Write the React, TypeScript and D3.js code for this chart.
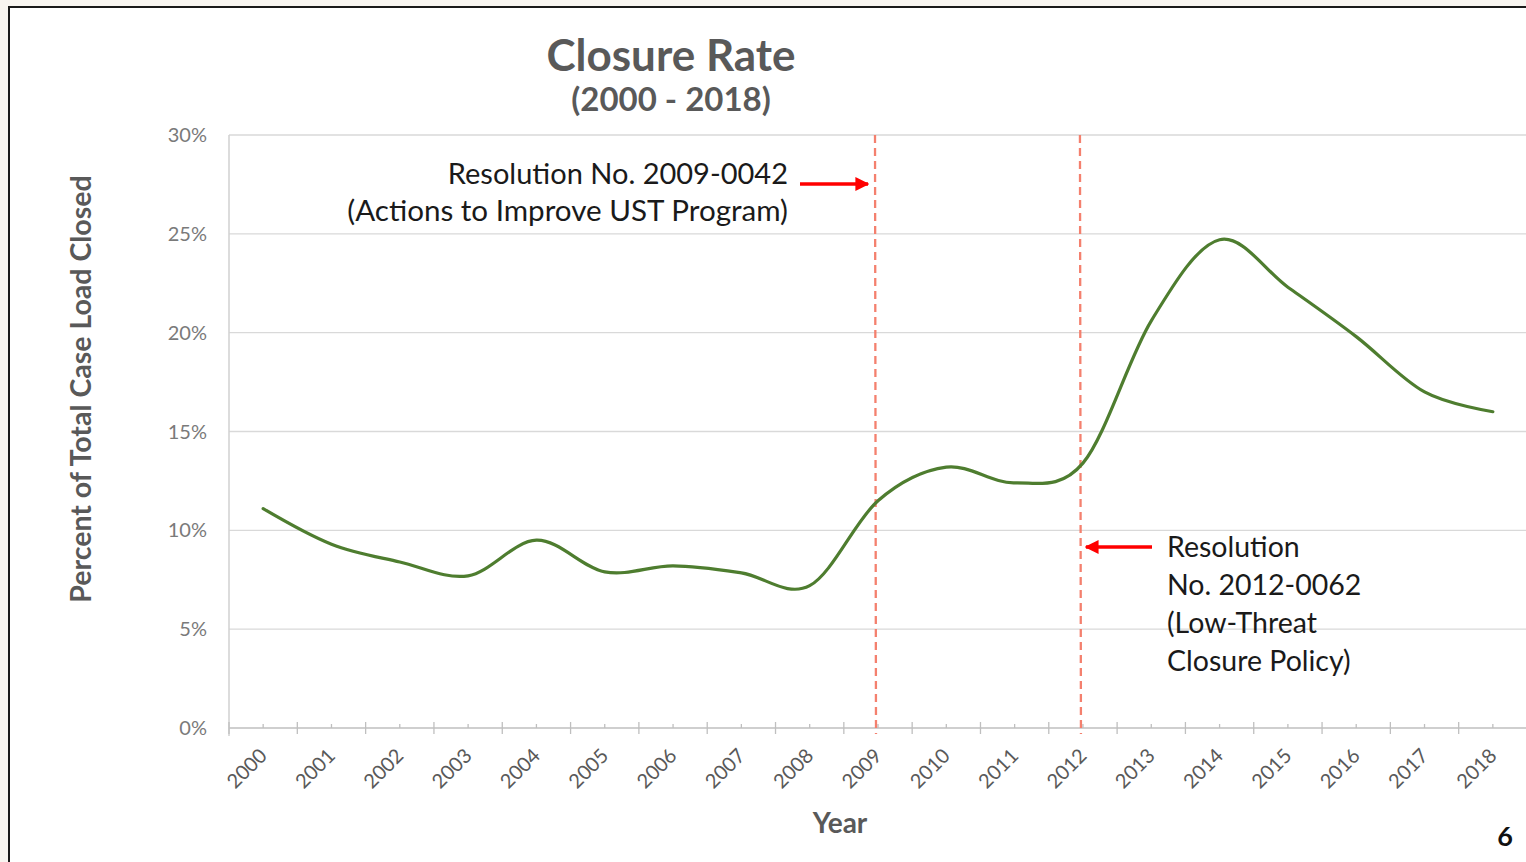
import React from "react";
import * as d3 from "d3";

const years = ["2000","2001","2002","2003","2004","2005","2006","2007","2008","2009","2010","2011","2012","2013","2014","2015","2016","2017","2018"];
const closureRate = [11.1, 9.3, 8.4, 7.7, 9.5, 7.9, 8.2, 7.85, 7.2, 11.5, 13.2, 12.4, 13.4, 20.6, 24.7, 22.3, 19.8, 17.0, 16.0];
const yTicks = [0, 5, 10, 15, 20, 25, 30];
const markerYears = ["2009", "2012"];
const note1 = ["Resolution No. 2009-0042", "(Actions to Improve UST Program)"];
const note2 = ["Resolution", "No. 2012-0062", "(Low-Threat", "Closure Policy)"];
const titleLines = ["Closure Rate", "(2000 - 2018)"];

const W = 1526, H = 862;
const left = 229, right = 1527, top = 135, bottom = 728;
const FONT = "Lato, 'Open Sans', sans-serif";

export default function App() {
  const x = d3.scaleBand().domain(years).range([left, right]).paddingInner(0).paddingOuter(0);
  const y = d3.scaleLinear().domain([0, 30]).range([bottom, top]);
  const cx = (yr: string) => (x(yr) as number) + x.bandwidth() / 2;
  const line = d3.line<number>()
    .x((_, i) => cx(years[i]))
    .y((d) => y(d))
    .curve(d3.curveCardinal.tension(0));
  const path = line(closureRate) || "";
  const bw = x.bandwidth();

  return (
    <svg width={W} height={H} style={{ position: "absolute", left: 0, top: 0, background: "#fff" }} fontFamily={FONT}>
      <defs>
        <marker id="arr" viewBox="0 0 10 10" refX="9" refY="5" markerWidth="4" markerHeight="4" orient="auto-start-reverse" markerUnits="strokeWidth">
          <path d="M0,0 L10,5 L0,10 z" fill="#ff0000" />
        </marker>
      </defs>
      <rect x={0} y={0} width={W} height={H} fill="#f8f5f0" />
      <rect x={9} y={7} width={W} height={H} fill="#ffffff" stroke="#1a1a1a" strokeWidth={2} />

      {/* title */}
      <text x={671} y={71} textAnchor="middle" fontSize={44} fontWeight={700} fill="#595959">{titleLines[0]}</text>
      <text x={671} y={111} textAnchor="middle" fontSize={33} fontWeight={700} fill="#595959">{titleLines[1]}</text>

      {/* gridlines */}
      {yTicks.map((t) => (
        <line key={t} x1={left} x2={right} y1={y(t)} y2={y(t)} stroke={t === 0 ? "#bfbfbf" : "#d9d9d9"} strokeWidth={t === 0 ? 1.5 : 1.3} />
      ))}
      {/* y axis line */}
      <line x1={left} x2={left} y1={top} y2={bottom + 8} stroke="#d0d0d0" strokeWidth={1.5} />
      {yTicks.map((t) => (
        <text key={"yl" + t} x={207} y={y(t) + 7} textAnchor="end" fontSize={20} fill="#7a7a7a">{t + "%"}</text>
      ))}

      {/* x ticks */}
      {years.map((yr) => (
        <g key={"xt" + yr}>
          <line x1={x(yr) as number} x2={x(yr) as number} y1={bottom - 6} y2={bottom + 6} stroke="#bfbfbf" strokeWidth={1.3} />
          <line x1={cx(yr)} x2={cx(yr)} y1={bottom - 4} y2={bottom} stroke="#bfbfbf" strokeWidth={1.3} />
          <text transform={`translate(${cx(yr) + 5},${bottom + 29}) rotate(-45)`} textAnchor="end" fontSize={20} fill="#595959">{yr}</text>
        </g>
      ))}
      <line x1={x(years[years.length - 1]) as number + bw} x2={x(years[years.length - 1]) as number + bw} y1={bottom - 6} y2={bottom + 6} stroke="#bfbfbf" strokeWidth={1.3} />

      {/* axis titles */}
      <text x={840} y={833} textAnchor="middle" fontSize={28} fontWeight={700} fill="#595959">Year</text>
      <text transform={`translate(91,389) rotate(-90)`} textAnchor="middle" fontSize={28.5} fontWeight={700} fill="#595959">Percent of Total Case Load Closed</text>

      {/* marker lines */}
      {markerYears.map((m) => (
        <line key={"m" + m} x1={cx(m) - 3} x2={cx(m) - 2} y1={top} y2={bottom + 6} stroke="#f4806e" strokeWidth={2.3} strokeDasharray="8,5" />
      ))}

      {/* data line */}
      <path d={path} fill="none" stroke="#4e7d2f" strokeWidth={3.2} strokeLinecap="round" />

      {/* annotation 1 */}
      <text x={788} y={184} textAnchor="end" fontSize={29} fill="#1a1a1a">{note1[0]}</text>
      <text x={788} y={221} textAnchor="end" fontSize={29.6} fill="#1a1a1a">{note1[1]}</text>
      <line x1={800} x2={cx(markerYears[0]) - 10} y1={184} y2={184} stroke="#ff0000" strokeWidth={3.5} markerEnd="url(#arr)" />

      {/* annotation 2 */}
      {note2.map((t, i) => (
        <text key={"n2" + i} x={1167} y={557 + i * 38} fontSize={28.5} fill="#1a1a1a">{t}</text>
      ))}
      <line x1={1152} x2={cx(markerYears[1]) + 3} y1={547} y2={547} stroke="#ff0000" strokeWidth={3.5} markerEnd="url(#arr)" />

      {/* page number */}
      <text x={1505} y={846} textAnchor="middle" fontSize={27} fontWeight={700} fill="#111">6</text>
    </svg>
  );
}
